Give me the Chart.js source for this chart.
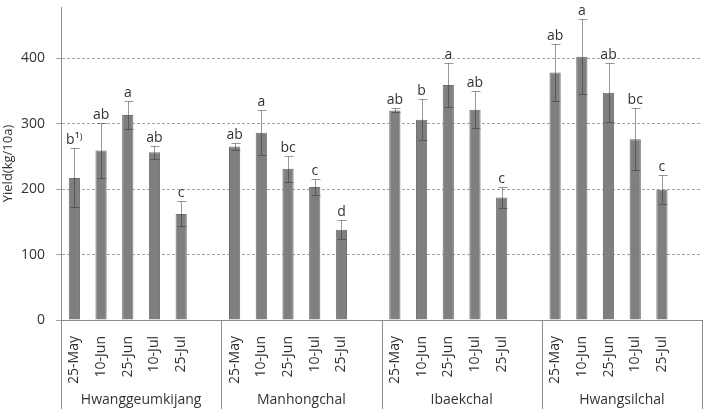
<!DOCTYPE html>
<html lang="en">
<head>
    <meta charset="UTF-8">
    <title>Yield by sowing date</title>
    <script src="https://cdn.jsdelivr.net/npm/chart.js@4.4.1/dist/chart.umd.min.js"></script>
    <style>
        body { margin: 0; background: #fff; }
    </style>
</head>
<body>
    <canvas id="yieldChart" width="707" height="409"></canvas>
    <script>
        const dates = ['25-May', '10-Jun', '25-Jun', '10-Jul', '25-Jul'];
        const cultivars = ['Hwanggeumkijang', 'Manhongchal', 'Ibaekchal', 'Hwangsilchal'];

        // mean yield per sowing date
        const yieldHwanggeumkijang = [217, 259, 313, 256, 162];
        const yieldManhongchal = [265, 286, 231, 203, 138];
        const yieldIbaekchal = [320, 306, 359, 321, 187];
        const yieldHwangsilchal = [378, 402, 347, 276, 199];

        // standard deviation
        const errHwanggeumkijang = [45, 42, 21, 10, 19];
        const errManhongchal = [6, 34, 20, 12, 14];
        const errIbaekchal = [3, 31, 33, 28, 16];
        const errHwangsilchal = [43, 57, 45, 47, 22];

        // DMRT letters
        const lettersHwanggeumkijang = ['b\u00b9\u207e', 'ab', 'a', 'ab', 'c'];
        const lettersManhongchal = ['ab', 'a', 'bc', 'c', 'd'];
        const lettersIbaekchal = ['ab', 'b', 'a', 'ab', 'c'];
        const lettersHwangsilchal = ['ab', 'a', 'ab', 'bc', 'c'];

        const yTicks = [0, 100, 200, 300, 400];

        const allYields = [yieldHwanggeumkijang, yieldManhongchal, yieldIbaekchal, yieldHwangsilchal];
        const allErrs = [errHwanggeumkijang, errManhongchal, errIbaekchal, errHwangsilchal];
        const allLetters = [lettersHwanggeumkijang, lettersManhongchal, lettersIbaekchal, lettersHwangsilchal];

        // each cultivar gets its 5 dates plus one empty slot
        const labels = [];
        const values = [];
        const errs = [];
        const letters = [];
        cultivars.forEach((c, g) => {
            dates.forEach((d, i) => {
                labels.push(d);
                values.push(allYields[g][i]);
                errs.push(allErrs[g][i]);
                letters.push(allLetters[g][i]);
            });
            labels.push('');
            values.push(null);
            errs.push(null);
            letters.push('');
        });

        const FONT = '"Open Sans", "DejaVu Sans", sans-serif';
        const slotsPerGroup = dates.length + 1;

        const extras = {
            id: 'extras',
            afterDatasetsDraw(chart) {
                const ctx = chart.ctx;
                const x = chart.scales.x;
                const y = chart.scales.y;
                const meta = chart.getDatasetMeta(0);
                ctx.save();
                // error bars
                ctx.strokeStyle = 'rgba(50,50,50,0.5)';
                ctx.lineWidth = 1;
                meta.data.forEach((bar, i) => {
                    if (values[i] === null) return;
                    const cx = Math.round(bar.x) + 0.5;
                    const top = Math.round(y.getPixelForValue(values[i] + errs[i])) + 0.5;
                    const bot = Math.round(y.getPixelForValue(values[i] - errs[i])) + 0.5;
                    ctx.beginPath();
                    ctx.moveTo(cx, top);
                    ctx.lineTo(cx, bot);
                    ctx.moveTo(cx - 4, top);
                    ctx.lineTo(cx + 5, top);
                    ctx.moveTo(cx - 4, bot);
                    ctx.lineTo(cx + 5, bot);
                    ctx.stroke();
                    // letter
                    ctx.fillStyle = '#333';
                    ctx.font = '14px ' + FONT;
                    ctx.textAlign = 'center';
                    ctx.textBaseline = 'alphabetic';
                    ctx.fillText(letters[i], bar.x, top - 5);
                });

                // category box lines below the axis
                const bottom = chart.height;
                ctx.strokeStyle = '#8c8c8c';
                ctx.beginPath();
                for (let g = 0; g <= cultivars.length; g++) {
                    const px = Math.round(x.getPixelForValue(g * slotsPerGroup - 0.5)) + 0.5;
                    ctx.moveTo(px, chart.chartArea.bottom);
                    ctx.lineTo(px, bottom);
                }
                ctx.stroke();

                // cultivar names
                ctx.fillStyle = '#333';
                ctx.font = '14px ' + FONT;
                ctx.textAlign = 'center';
                ctx.textBaseline = 'middle';
                cultivars.forEach((c, g) => {
                    const px = x.getPixelForValue(g * slotsPerGroup + (slotsPerGroup - 1) / 2);
                    ctx.fillText(c, px, 400);
                });
                ctx.restore();
            }
        };

        const ctx = document.getElementById('yieldChart').getContext('2d');
        new Chart(ctx, {
            type: 'bar',
            data: {
                labels: labels,
                datasets: [{
                    data: values,
                    backgroundColor: '#7f7f7f',
                    borderColor: '#6e6e6e',
                    borderWidth: 1,
                    categoryPercentage: 1,
                    barPercentage: 0.42
                }]
            },
            options: {
                responsive: false,
                animation: false,
                layout: { padding: { top: 7, right: 5, left: 0, bottom: 0 } },
                plugins: {
                    legend: { display: false },
                    tooltip: { enabled: false }
                },
                scales: {
                    x: {
                        grid: { display: false },
                        border: { color: '#8c8c8c' },
                        ticks: {
                            autoSkip: false,
                            minRotation: 90,
                            maxRotation: 90,
                            padding: 8,
                            color: '#333',
                            font: { family: FONT, size: 14 }
                        },
                        afterFit(scale) {
                            scale.height = 89;
                            scale.paddingLeft = 0;
                            scale.paddingRight = 0;
                        }
                    },
                    y: {
                        min: 0,
                        max: 478,
                        afterBuildTicks(scale) {
                            scale.ticks = yTicks.map(v => ({ value: v }));
                        },
                        grid: {
                            color: '#a3a3a3',
                            tickLength: 5,
                            tickBorderDash: []
                        },
                        border: { color: '#8c8c8c', dash: [3, 2] },
                        ticks: {
                            padding: 11,
                            color: '#333',
                            font: { family: FONT, size: 14 }
                        },
                        title: {
                            display: true,
                            text: 'Yield(kg/10a)',
                            color: '#333',
                            padding: { top: 0, bottom: 0 },
                            font: { family: FONT, size: 13 }
                        },
                        afterFit(scale) {
                            scale.width = 61;
                            scale.paddingTop = 0;
                            scale.paddingBottom = 0;
                        }
                    }
                }
            },
            plugins: [extras]
        });
    </script>
</body>
</html>
